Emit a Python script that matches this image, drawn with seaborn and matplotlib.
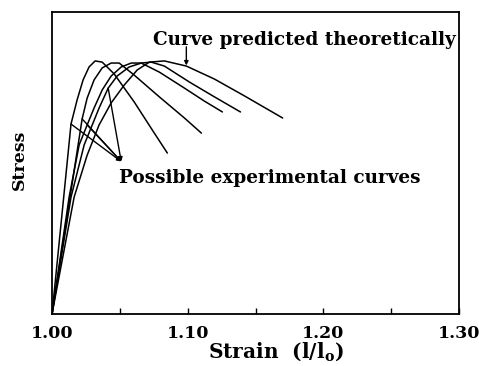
import matplotlib
matplotlib.use("Agg")
import matplotlib.pyplot as plt
import seaborn as sns
import pandas as pd

# ---- data (strain l/l0, stress in arbitrary units) ----
c1_strain = [1.000, 1.0140, 1.0185, 1.0229, 1.0273, 1.0318, 1.0370, 1.0458, 1.0606, 1.0754, 1.0850]
c1_stress = [0.000, 0.629, 0.709, 0.775, 0.818, 0.838, 0.834, 0.795, 0.702, 0.599, 0.533]

c2_strain = [1.000, 1.0222, 1.0259, 1.0310, 1.0370, 1.0436, 1.0495, 1.0606, 1.0791, 1.0976, 1.1101]
c2_stress = [0.000, 0.646, 0.715, 0.775, 0.815, 0.831, 0.831, 0.791, 0.719, 0.649, 0.599]

c3_strain = [1.000, 1.0126, 1.0200, 1.0259, 1.0310, 1.0370, 1.0436, 1.0510, 1.0584, 1.0658, 1.0791, 1.0976, 1.1123, 1.1256]
c3_stress = [0.000, 0.387, 0.560, 0.626, 0.682, 0.742, 0.788, 0.818, 0.831, 0.831, 0.801, 0.748, 0.705, 0.669]

c4_strain = [1.000, 1.0140, 1.0237, 1.0347, 1.0414, 1.0480, 1.0569, 1.0658, 1.0732, 1.0828, 1.1013, 1.1197, 1.1389]
c4_stress = [0.000, 0.387, 0.560, 0.682, 0.748, 0.788, 0.818, 0.831, 0.834, 0.821, 0.768, 0.719, 0.669]

theory_strain = [1.000, 1.0163, 1.0259, 1.0347, 1.0436, 1.0532, 1.0628, 1.0717, 1.0828, 1.0990, 1.1197, 1.1419, 1.1700]
theory_stress = [0.000, 0.387, 0.526, 0.626, 0.699, 0.758, 0.808, 0.834, 0.838, 0.821, 0.778, 0.722, 0.649]

exp_arrow_targets_strain = [1.0140, 1.0222, 1.0259, 1.0414]
exp_arrow_targets_stress = [0.629, 0.646, 0.626, 0.748]

x_ticks = [1.00, 1.10, 1.20, 1.30]
x_tick_labels = ["1.00", "1.10", "1.20", "1.30"]
x_minor = [1.05, 1.15, 1.25]

# ---- style ----
sns.set_style("white")
plt.rcParams["font.family"] = ["DejaVu Serif"]
plt.rcParams["font.weight"] = "bold"
plt.rcParams["mathtext.fontset"] = "dejavuserif"
plt.rcParams["mathtext.default"] = "bf"
plt.rcParams["text.color"] = "black"
plt.rcParams["axes.labelcolor"] = "black"
plt.rcParams["xtick.color"] = "black"

fig = plt.figure(figsize=(4.79, 3.66), dpi=100)
ax = fig.add_axes([0.1086, 0.1421, 0.8497, 0.8251])

curves = [
    (c1_strain, c1_stress),
    (c2_strain, c2_stress),
    (c3_strain, c3_stress),
    (c4_strain, c4_stress),
    (theory_strain, theory_stress),
]
for sx, sy in curves:
    df = pd.DataFrame({"strain": sx, "stress": sy})
    sns.lineplot(data=df, x="strain", y="stress", sort=False, color="black",
                 linewidth=1.1, ax=ax, estimator=None)

ax.set_xlim(1.0, 1.3)
ax.set_ylim(0.0, 1.0)
ax.set_xticks(x_ticks)
ax.set_xticklabels(x_tick_labels)
ax.set_xticks(x_minor, minor=True)
ax.set_yticks([])
ax.tick_params(axis="x", which="both", direction="in", length=4, width=1.0,
               labelsize=12.5, pad=8, bottom=True, labelcolor="black")
for lab in ax.get_xticklabels():
    lab.set_fontweight("bold")
for sp in ax.spines.values():
    sp.set_linewidth(1.3)
    sp.set_color("black")

ax.set_xlabel(r"Strain  (l/l$_{\mathbf{o}}$)", fontsize=14.5, fontweight="bold")
ax.xaxis.set_label_coords(0.55, -0.088)
ax.set_ylabel("Stress", fontsize=12.5, fontweight="bold")
ax.yaxis.set_label_coords(-0.06, 0.51)

# annotations
ax.annotate("", xy=(1.099, 0.823), xytext=(1.099, 0.885),
            arrowprops=dict(arrowstyle="-|>", color="black", lw=1.0,
                            mutation_scale=6, shrinkA=0, shrinkB=0))
ax.text(1.0741, 0.907, "Curve predicted theoretically", fontsize=13.3,
        fontweight="bold", va="center", ha="left")

conv = (1.051, 0.505)
for tx, ty in zip(exp_arrow_targets_strain, exp_arrow_targets_stress):
    ax.annotate("", xy=conv, xytext=(tx, ty),
                arrowprops=dict(arrowstyle="-|>", color="black", lw=1.0,
                                mutation_scale=6, shrinkA=0, shrinkB=0))
ax.text(1.0495, 0.450, "Possible experimental curves", fontsize=13.3,
        fontweight="bold", va="center", ha="left")

fig.savefig("out.png", dpi=100)
